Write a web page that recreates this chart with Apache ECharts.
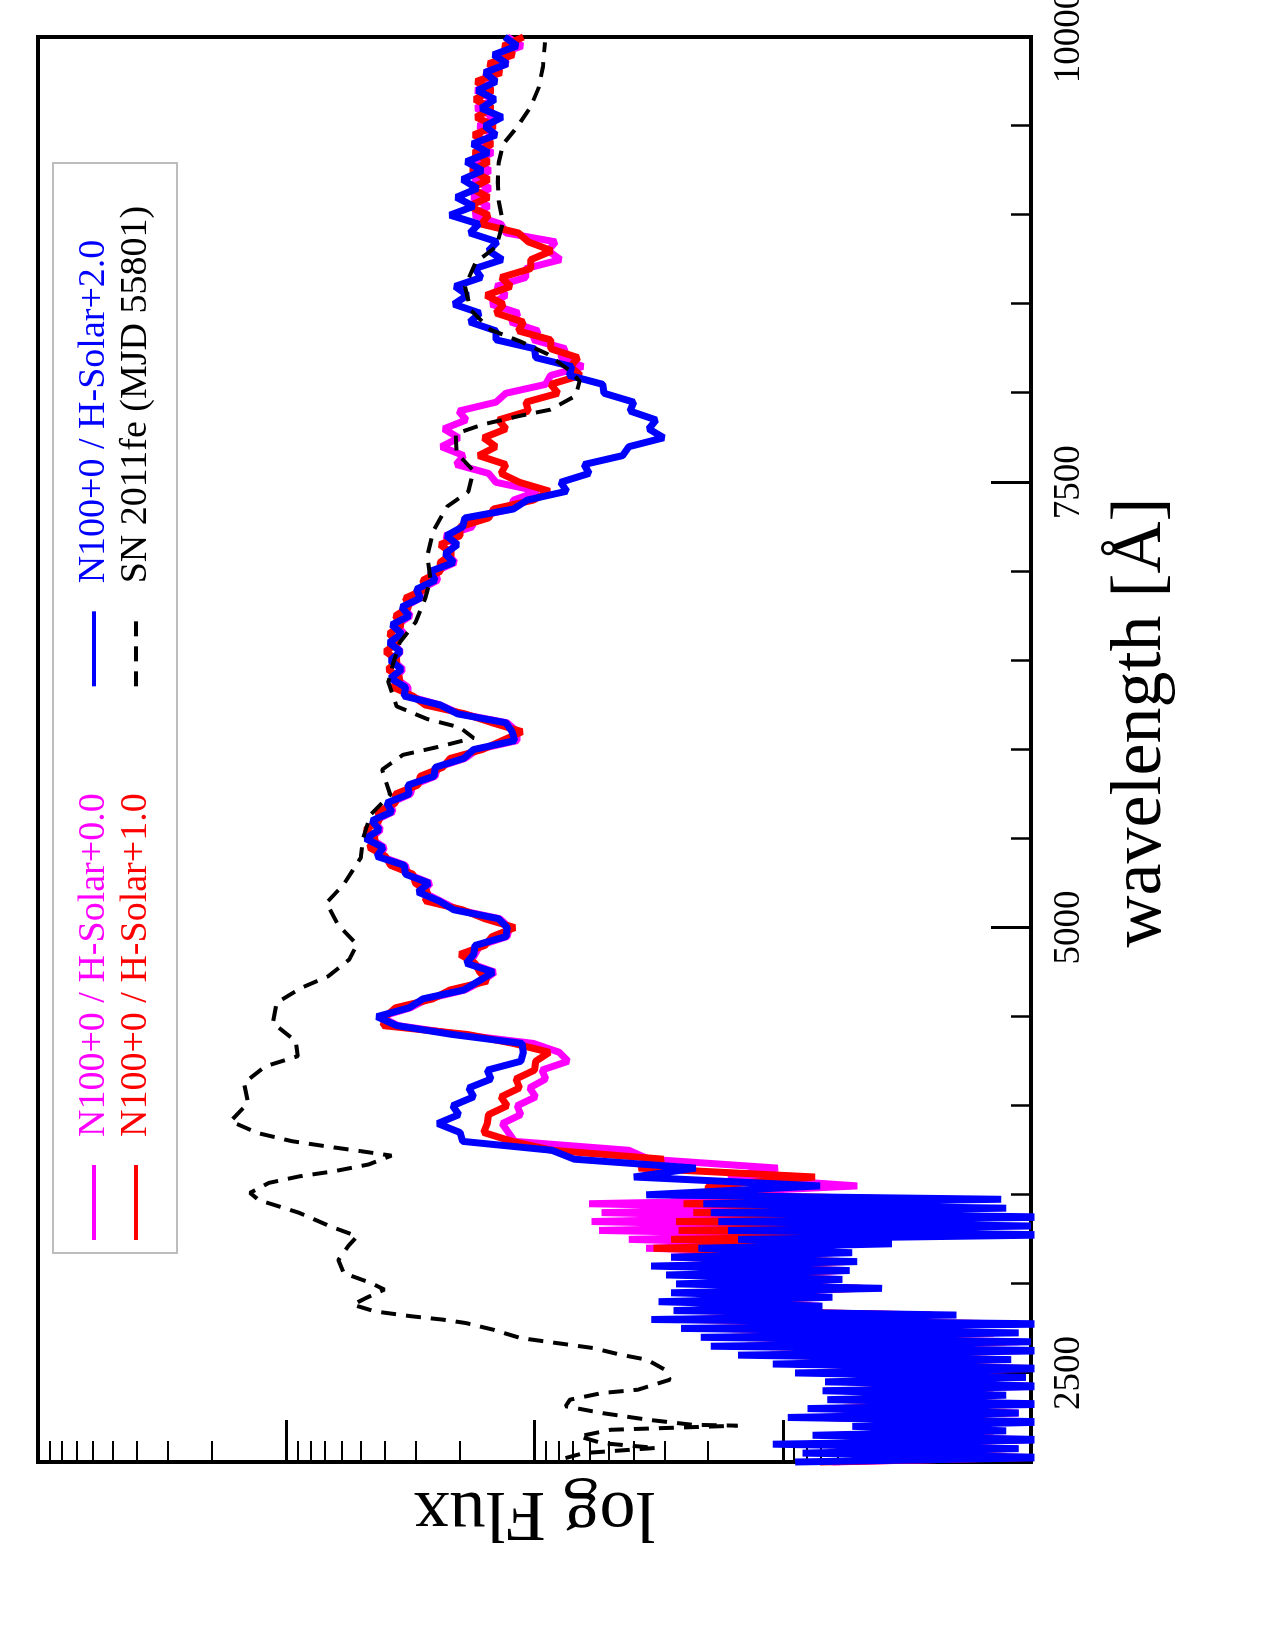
<!DOCTYPE html>
<html>
<head>
<meta charset="utf-8">
<title>N100 spectra vs SN 2011fe</title>
<script src="https://cdn.jsdelivr.net/npm/echarts@6/dist/echarts.min.js"></script>
<style>
  html, body { margin: 0; padding: 0; background: #fff; overflow: hidden; }
  body { width: 1275px; height: 1650px; position: relative; }
  /* the chart is drawn landscape and turned a quarter turn, like the printed figure */
  #chart {
    position: absolute; left: 0; top: 0;
    width: 1650px; height: 1275px;
    transform-origin: 0 0;
    transform: translateY(1650px) rotate(-90deg);
  }
</style>
</head>
<body>
<div id="chart"></div>
<script>
// model wavelength grid [Angstrom]
const waveModel = [
  2000,2025,2050,2075,2100,2125,2150,2175,2200,2225,
  2250,2275,2300,2325,2350,2375,2400,2425,2450,2475,
  2500,2525,2550,2575,2600,2625,2650,2675,2700,2725,
  2750,2775,2800,2825,2850,2875,2900,2925,2950,2975,
  3000,3025,3050,3075,3100,3125,3150,3175,3200,3225,
  3250,3275,3300,3325,3350,3375,3400,3425,3450,3475,
  3500,
  3550,3600,3650,3700,3750,3800,3850,3900,3950,4000,
  4050,4100,4150,4200,4250,4300,4350,4400,4450,4500,
  4550,4600,4650,4700,4750,4800,4850,4900,4950,5000,
  5050,5100,5150,5200,5250,5300,5350,5400,5450,5500,
  5550,5600,5650,5700,5750,5800,5850,5900,5950,6000,
  6050,6100,6150,6200,6250,6300,6350,6400,6450,6500,
  6550,6600,6650,6700,6750,6800,6850,6900,6950,7000,
  7050,7100,7150,7200,7250,7300,7350,7400,7450,7500,
  7550,7600,7650,7700,7750,7800,7850,7900,7950,8000,
  8050,8100,8150,8200,8250,8300,8350,8400,8450,8500,
  8550,8600,8650,8700,8750,8800,8850,8900,8950,9000,
  9050,9100,9150,9200,9250,9300,9350,9400,9450,9500,
  9550,9600,9650,9700,9750,9800,9850,9900,9950,10000
];

// log flux, N100+0 / H-Solar+0.0 (magenta)
const fluxH00 = [
  0.8,0.05,0.78,0.12,0.85,0.0,0.75,0.15,0.6,0.1,
  0.8,0.05,0.78,0.1,0.7,0.15,0.72,0.0,0.7,0.1,
  0.78,0.05,0.9,0.15,1.0,0.1,1.1,0.05,1.15,0.15,
  1.25,0.1,1.35,0.45,1.3,0.85,1.35,0.82,1.3,0.7,
  1.35,0.78,1.38,0.75,1.42,0.8,1.45,0.85,1.55,1.0,
  1.62,0.8,1.74,0.9,1.77,0.95,1.73,0.9,1.78,0.85,
  1.45,
  0.70,1.22,1.02,1.54,1.62,2.08,2.105,2.13,2.055,2.07,
  1.995,2.02,1.955,1.97,1.865,1.90,2.005,2.30,2.55,2.62,
  2.50,2.43,2.28,2.21,2.16,2.26,2.24,2.22,2.11,2.10,
  2.14,2.31,2.38,2.45,2.42,2.51,2.52,2.62,2.605,2.66,
  2.62,2.645,2.57,2.58,2.50,2.49,2.40,2.39,2.28,2.23,
  2.07,2.07,2.11,2.30,2.38,2.51,2.51,2.56,2.53,2.57,
  2.54,2.57,2.525,2.555,2.50,2.525,2.46,2.46,2.39,2.40,
  2.32,2.35,2.32,2.36,2.25,2.255,2.095,2.085,1.985,2.155,
  2.185,2.315,2.285,2.375,2.305,2.365,2.275,2.305,2.155,2.115,
  1.955,1.935,1.805,1.895,1.875,2.005,1.985,2.095,2.065,2.175,
  2.115,2.155,2.035,2.035,1.895,1.945,1.915,2.115,2.135,2.245,
  2.185,2.25,2.18,2.245,2.18,2.245,2.17,2.235,2.165,2.225,
  2.16,2.235,2.165,2.235,2.16,2.20,2.11,2.15,2.05,2.11
];

// log flux, N100+0 / H-Solar+1.0 (red)
const fluxH10 = [
  0.85,0.0,0.8,0.1,0.9,0.05,0.78,0.15,0.65,0.05,
  0.85,0.1,0.8,0.0,0.75,0.15,0.75,0.05,0.74,0.1,
  0.8,0.0,0.95,0.12,1.05,0.05,1.15,0.1,1.2,0.15,
  1.28,0.05,1.38,0.4,1.32,0.88,1.36,0.85,1.33,0.68,
  1.30,0.8,1.35,0.78,1.38,0.75,1.42,0.8,1.52,0.75,
  1.45,0.3,1.42,0.25,1.43,0.2,1.36,0.4,1.40,0.45,
  1.3,
  1.30,0.87,1.58,1.48,1.93,2.09,2.205,2.19,2.185,2.11,
  2.135,2.06,2.075,2.00,1.995,1.94,2.085,2.27,2.61,2.60,
  2.56,2.41,2.34,2.19,2.22,2.24,2.30,2.20,2.17,2.08,
  2.20,2.29,2.44,2.43,2.48,2.49,2.58,2.60,2.665,2.64,
  2.68,2.625,2.63,2.56,2.56,2.47,2.46,2.37,2.34,2.21,
  2.13,2.05,2.17,2.28,2.44,2.49,2.57,2.54,2.59,2.55,
  2.60,2.55,2.585,2.535,2.56,2.505,2.52,2.44,2.45,2.38,
  2.38,2.33,2.38,2.30,2.30,2.185,2.165,2.005,1.94,2.06,
  2.135,2.115,2.225,2.155,2.205,2.115,2.145,2.025,2.035,1.905,
  1.935,1.815,1.855,1.825,1.935,1.935,2.065,2.045,2.155,2.125,
  2.195,2.095,2.135,2.015,2.015,1.93,2.025,2.065,2.215,2.185,
  2.265,2.185,2.255,2.185,2.255,2.185,2.245,2.17,2.245,2.16,
  2.235,2.17,2.24,2.17,2.235,2.135,2.185,2.085,2.125,2.045
];

// log flux, N100+0 / H-Solar+2.0 (blue)
const fluxH20 = [
  0.95,-0.1,0.92,0.05,1.04,-0.1,0.88,0.1,0.72,-0.1,
  0.98,0.05,0.90,-0.1,0.82,0.1,0.84,-0.1,0.83,0.02,
  0.95,-0.1,1.04,0.08,1.18,-0.1,1.29,0.0,1.33,0.05,
  1.41,-0.1,1.53,0.30,1.44,0.84,1.50,0.80,1.45,0.60,
  1.43,0.76,1.47,0.73,1.53,0.70,1.45,0.72,1.34,0.56,
  1.18,-0.1,1.22,0.0,1.26,-0.1,1.29,0.1,1.32,0.12,
  1.55,
  0.85,1.60,1.35,1.84,1.93,2.29,2.30,2.39,2.305,2.33,
  2.245,2.265,2.175,2.19,2.055,2.045,2.05,2.33,2.555,2.635,
  2.505,2.45,2.285,2.225,2.165,2.275,2.245,2.24,2.115,2.11,
  2.145,2.325,2.385,2.47,2.425,2.52,2.525,2.635,2.61,2.68,
  2.625,2.655,2.575,2.595,2.505,2.51,2.405,2.40,2.285,2.245,
  2.08,2.09,2.115,2.31,2.38,2.525,2.52,2.58,2.535,2.58,
  2.54,2.585,2.535,2.575,2.505,2.535,2.46,2.475,2.40,2.42,
  2.325,2.36,2.31,2.355,2.29,2.28,2.085,2.03,1.87,1.895,
  1.78,1.80,1.645,1.62,1.48,1.54,1.51,1.615,1.60,1.72,
  1.725,1.86,1.85,1.995,2.00,2.155,2.155,2.26,2.22,2.325,
  2.27,2.32,2.215,2.24,2.13,2.185,2.15,2.26,2.225,2.34,
  2.245,2.315,2.23,2.29,2.21,2.275,2.185,2.25,2.155,2.20,
  2.13,2.215,2.16,2.23,2.155,2.20,2.11,2.165,2.07,2.12
];

// SN 2011fe, MJD 55801: wavelength and log flux
const waveSN = [
  2022,2050,2079,2106,2144,2181,2204,2209,2238,2275,
  2313,2350,2387,2406,2462,2518,2574,2603,2640,2668,
  2696,2743,2780,2799,2818,2845,2883,2921,2968,3005,
  3061,3134,3211,3267,3323,3400,3470,3511,3567,3604,
  3632,3670,3720,3745,3772,3801,3847,3913,4016,4128,
  4221,4278,4362,4465,4578,4662,4727,4821,4905,5017,
  5139,5242,5392,5498,5633,5746,5887,5970,6017,6065,
  6124,6171,6242,6378,6490,6602,6715,6845,6957,7087,
  7229,7364,7447,7565,7666,7772,7825,7873,7908,7985,
  8068,8133,8221,8292,8357,8469,8599,8735,8824,8960,
  9078,9184,9296,9397,9491,9604,9716,9834,9970
];
const fluxSN = [
  1.875,1.802,1.510,1.729,1.820,1.692,1.181,1.364,1.547,1.729,
  1.875,1.857,1.729,1.583,1.455,1.474,1.547,1.655,1.765,1.911,
  2.057,2.167,2.276,2.367,2.495,2.641,2.732,2.678,2.605,2.659,
  2.769,2.790,2.751,2.714,2.823,2.950,3.110,3.146,3.070,2.946,
  2.808,2.669,2.576,2.700,2.838,2.977,3.116,3.224,3.154,3.170,
  3.085,2.954,2.961,3.054,3.039,2.939,2.831,2.746,2.715,2.792,
  2.838,2.769,2.700,2.691,2.661,2.581,2.614,2.530,2.381,2.246,
  2.301,2.432,2.555,2.589,2.568,2.542,2.479,2.441,2.419,2.432,
  2.407,2.352,2.267,2.246,2.314,2.318,2.208,2.059,1.936,1.835,
  1.818,1.864,1.949,2.059,2.178,2.258,2.280,2.237,2.153,2.127,
  2.144,2.148,2.144,2.127,2.072,2.017,1.983,1.966,1.958
];

const seriesNames = [
  'N100+0 / H-Solar+0.0',
  'N100+0 / H-Solar+1.0',
  'N100+0 / H-Solar+2.0',
  'SN 2011fe (MJD 55801)'
];
const waveTicks = [2500, 5000, 7500, 10000];

const FONT = 'Liberation Serif';

// log-decade minor tick positions (2..9 in each decade)
const minorLog = [];
for (let n = 0; n < 4; n++) {
  for (let k = 2; k <= 9; k++) minorLog.push(n + Math.log10(k));
}

function pairs(xs, ys) {
  return xs.map((x, i) => [x, ys[i]]);
}

const chart = echarts.init(document.getElementById('chart'));

const legendBase = {
  orient: 'horizontal',
  left: 408,
  padding: 0,
  itemWidth: 75,
  itemHeight: 38,
  itemGap: 105,
  selectedMode: false,
  itemStyle: { opacity: 0 },
  lineStyle: { width: 4 },
  textStyle: {
    fontFamily: FONT,
    fontSize: 38,
    lineHeight: 38,
    padding: [0, 0, 0, 23]
  }
};

const option = {
  animation: false,
  backgroundColor: '#fff',
  grid: {
    left: 188, right: 37, top: 38, bottom: 244,
    containLabel: false,
    outerBoundsMode: 'none',
    show: true,
    borderColor: '#000',
    borderWidth: 4
  },
  legend: [
    Object.assign({}, legendBase, {
      top: 75,
      data: [
        { name: seriesNames[0], textStyle: { color: '#ff00ff' } },
        { name: seriesNames[2], textStyle: { color: '#0000ff' } }
      ]
    }),
    Object.assign({}, legendBase, {
      top: 117,
      data: [
        { name: seriesNames[1], textStyle: { color: '#ff0000' } },
        { name: seriesNames[3], textStyle: { color: '#000' } }
      ]
    })
  ],
  graphic: [{
    type: 'rect',
    silent: true,
    shape: { x: 397, y: 53, width: 1090, height: 124 },
    style: { fill: 'none', stroke: '#bdbdbd', lineWidth: 2 }
  }],
  xAxis: [
    {
      type: 'value', min: 2000, max: 10000, interval: 500,
      position: 'bottom',
      axisLine: { show: false },
      axisTick: { inside: true, length: 20, lineStyle: { color: '#000', width: 2.5 } },
      axisLabel: { show: false },
      splitLine: { show: false }
    },
    {
      type: 'value', min: 2000, max: 10000,
      position: 'bottom',
      axisLine: { show: false },
      axisTick: { inside: true, length: 40, customValues: waveTicks,
                  lineStyle: { color: '#000', width: 3 } },
      axisLabel: { customValues: waveTicks, margin: 20,
                   formatter: v => String(v),
                   fontFamily: FONT, fontSize: 37, color: '#000' },
      splitLine: { show: false },
      name: 'wavelength [Å]',
      nameLocation: 'middle',
      nameGap: 74,
      nameTextStyle: { fontFamily: FONT, fontSize: 72, color: '#000',
                       padding: [0, 0, 0, 54] }
    }
  ],
  yAxis: [
    {
      type: 'value', min: 0, max: 4, interval: 1,
      position: 'left',
      axisLine: { show: false },
      axisTick: { inside: true, length: 42, lineStyle: { color: '#000', width: 3 } },
      axisLabel: { show: false },
      splitLine: { show: false },
      name: 'log Flux',
      nameLocation: 'middle',
      nameRotate: 90,
      nameGap: 14,
      nameTextStyle: { fontFamily: FONT, fontSize: 72, color: '#000' }
    },
    {
      type: 'value', min: 0, max: 4,
      position: 'left',
      axisLine: { show: false },
      axisTick: { inside: true, length: 21, customValues: minorLog,
                  lineStyle: { color: '#000', width: 2 } },
      axisLabel: { show: false, customValues: minorLog },
      splitLine: { show: false }
    }
  ],
  series: [
    {
      name: seriesNames[0], type: 'line', symbol: 'none', clip: true,
      data: pairs(waveModel, fluxH00),
      lineStyle: { color: '#ff00ff', width: 7 }, itemStyle: { color: '#ff00ff' },
      z: 2
    },
    {
      name: seriesNames[1], type: 'line', symbol: 'none', clip: true,
      data: pairs(waveModel, fluxH10),
      lineStyle: { color: '#ff0000', width: 7 }, itemStyle: { color: '#ff0000' },
      z: 3
    },
    {
      name: seriesNames[2], type: 'line', symbol: 'none', clip: true,
      data: pairs(waveModel, fluxH20),
      lineStyle: { color: '#0000ff', width: 7 }, itemStyle: { color: '#0000ff' },
      z: 4
    },
    {
      name: seriesNames[3], type: 'line', symbol: 'none', clip: true,
      data: pairs(waveSN, fluxSN),
      lineStyle: { color: '#000', width: 4, type: [15, 10] }, itemStyle: { color: '#000' },
      z: 5
    }
  ]
};

chart.setOption(option);
</script>
</body>
</html>
